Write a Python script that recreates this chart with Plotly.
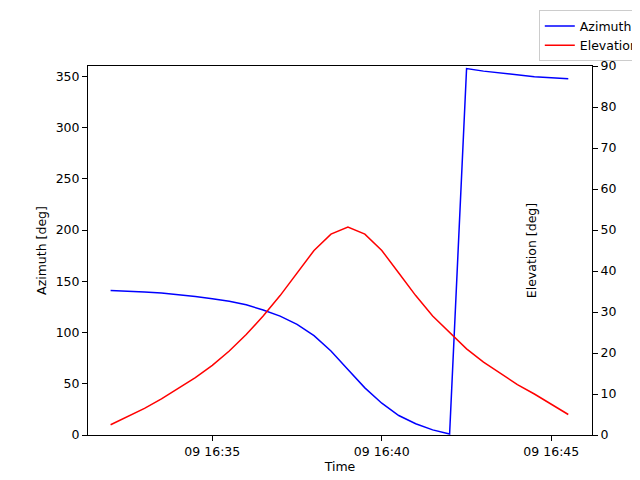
import pandas as pd
import plotly.graph_objects as go

# 30 s samples of a satellite pass
times = pd.date_range("2023-05-09 16:32:00", "2023-05-09 16:45:30", freq="30s")
azimuth = [141, 140.5, 139.5, 138.5, 137, 135, 133, 130.5, 127, 122, 116, 108, 97, 82,
           64, 46, 31, 19, 11, 5, 1, 357.5, 355, 353, 351, 349.5, 348.5, 347.5]
elevation = [2.5, 4.5, 6.5, 8.8, 11.3, 14, 17, 20.5, 24.5, 29, 34, 39.5, 45, 49,
             50.7, 49, 45, 39.5, 34, 29, 25, 21, 17.8, 15, 12.3, 10, 7.5, 5]
tick_times = pd.to_datetime(["2023-05-09 16:35", "2023-05-09 16:40", "2023-05-09 16:45"])

fig = go.Figure()
fig.add_trace(go.Scatter(x=times, y=azimuth, mode="lines", name="Azimuth",
                         line=dict(color="blue", width=1.5)))
fig.add_trace(go.Scatter(x=times, y=elevation, mode="lines", name="Elevation",
                         line=dict(color="red", width=1.5), yaxis="y2"))

axis_style = dict(showline=True, linecolor="black", ticks="outside",
                  tickcolor="black", showgrid=False, zeroline=False)
title_font = dict(size=12.5)
fig.update_layout(
    width=640, height=480, plot_bgcolor="white", paper_bgcolor="white",
    font=dict(family="DejaVu Sans", size=12.5, color="black"),
    margin=dict(l=80, r=56, t=58, b=53, autoexpand=False),
    xaxis=dict(title=dict(text="Time", standoff=4, font=title_font), tickvals=tick_times,
               tickformat="%d %H:%M", mirror=True,
               range=[pd.Timestamp("2023-05-09 16:31:20"), pd.Timestamp("2023-05-09 16:46:12")],
               **axis_style),
    yaxis=dict(title=dict(text="Azimuth [deg]", standoff=6, font=title_font),
               range=[0, 360], dtick=50, mirror=False, **axis_style),
    yaxis2=dict(title=dict(text="Elevation [deg]", standoff=6, font=title_font),
                range=[0, 90], dtick=10, overlaying="y", side="right", **axis_style),
    legend=dict(x=0.995, y=0.995, xref="container", yref="container",
                xanchor="right", yanchor="top",
                bordercolor="#cccccc", borderwidth=1, bgcolor="white"),
)
fig.write_html("out.html")
